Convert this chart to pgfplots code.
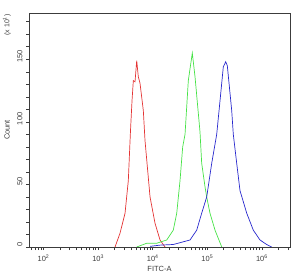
\documentclass[border=0pt]{standalone}
\usepackage{pgfplots}
\pgfplotsset{compat=1.18}
\usepackage{pgfplotstable}
\usepackage{fontspec}
\setmainfont{Liberation Sans}
\definecolor{cred}{RGB}{228,52,52}
\definecolor{cgreen}{RGB}{70,226,70}
\definecolor{cblue}{RGB}{40,40,205}
\definecolor{caxis}{RGB}{60,60,60}

\pgfplotstableread{
lx y
3.310 0
3.401 11
3.493 27
3.553 53
3.593 93
3.621 117
3.645 133
3.676 132
3.707 149
3.736 136
3.767 131
3.828 109
3.859 85
3.951 40
4.042 19
4.134 5.6
4.225 0
}\redtab

\pgfplotstableread{
lx y
3.707 0
3.890 3
4.073 3
4.256 5.6
4.377 13.5
4.440 27
4.500 53
4.549 80
4.592 90
4.652 133
4.725 155
4.775 136
4.866 92
4.897 67
4.958 48
4.989 40
5.049 27
5.141 13.5
5.264 0
}\greentab

\pgfplotstableread{
lx y
3.951 0.5
4.134 1.5
4.377 2
4.683 5.6
4.806 13.5
4.897 27
4.989 40
5.081 67
5.172 90
5.233 117
5.293 144
5.337 148
5.366 145
5.447 109
5.476 90
5.538 67
5.599 45
5.722 27
5.842 13.5
5.965 5.6
6.088 2
6.179 0
}\bluetab

\begin{document}
\begin{tikzpicture}
\useasboundingbox (-29bp,-28bp) rectangle (265bp,247bp);
\begin{axis}[
  scale only axis, width=261bp, height=234bp,
  at={(0,0)}, anchor=south west,
  xmode=log, xmin=54.2, xmax=3.27e6,
  ymin=0, ymax=187,
  axis line style={caxis, line width=0.8bp},
  every tick/.style={caxis, line width=0.6bp},
  tick align=outside,
  xtick pos=bottom, ytick pos=left,
  major tick length=3bp, minor tick length=3bp,
  xtick={1e2,1e3,1e4,1e5,1e6},
  xticklabels={10\textsuperscript{2},10\textsuperscript{3},10\textsuperscript{4},10\textsuperscript{5},10\textsuperscript{6}},
  minor xtick={60,70,80,90,200,300,400,500,600,700,800,900,2000,3000,4000,5000,6000,7000,8000,9000,20000,30000,40000,50000,60000,70000,80000,90000,200000,300000,400000,500000,600000,700000,800000,900000,2000000,3000000},
  ytick={0,50,100,150},
  minor ytick={10,20,30,40,60,70,80,90,110,120,130,140,160,170,180},
  /pgf/number format/assume math mode=true,
  tick label style={font=\fontsize{7.5}{8}\selectfont, text=caxis},
  yticklabel style={rotate=90, anchor=south, xshift=3bp},
  xticklabel style={yshift=-1bp},
  xlabel={FITC-A}, ylabel={Count},
  label style={font=\fontsize{7.5}{9}\selectfont, text=caxis},
  xlabel style={at={(axis description cs:0.5,-0.093)}, anchor=center},
  ylabel style={at={(axis description cs:-0.084,0.5)}, anchor=center},
  clip=true,
]
\addplot[cred, line width=0.7bp] table[x expr=10^\thisrow{lx}, y=y] {\redtab};
\addplot[cgreen, line width=0.7bp] table[x expr=10^\thisrow{lx}, y=y] {\greentab};
\addplot[cblue, line width=0.7bp] table[x expr=10^\thisrow{lx}, y=y] {\bluetab};
\end{axis}
\node[rotate=90, font=\fontsize{7}{8}\selectfont, text=caxis] at (-22bp,222bp) {(x 10\textsuperscript{1})};
\end{tikzpicture}
\end{document}
